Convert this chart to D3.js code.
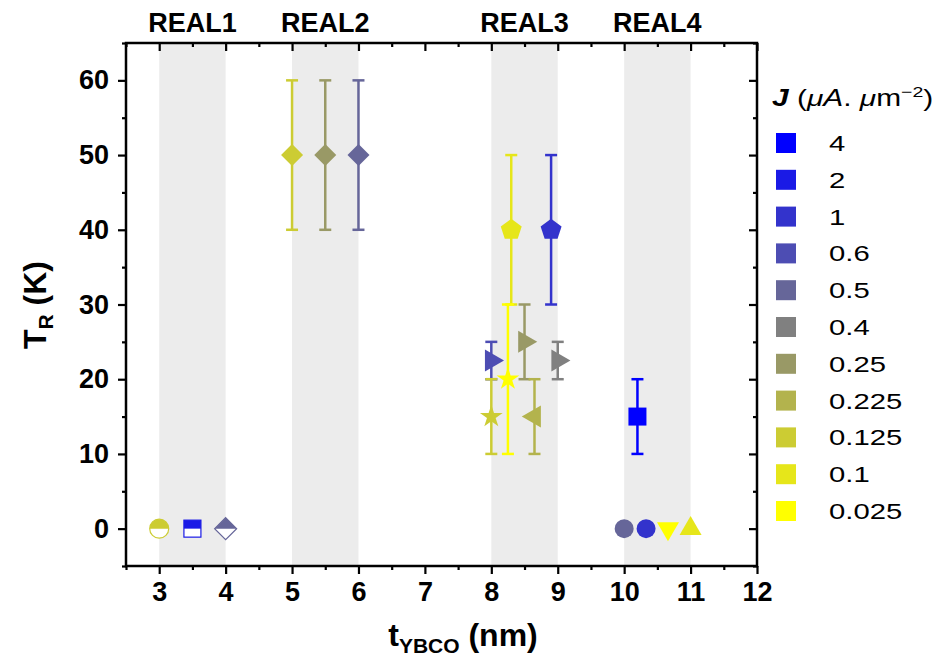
<!DOCTYPE html>
<html>
<head>
<meta charset="utf-8">
<script src="https://cdn.jsdelivr.net/npm/d3@7"></script>
<style>
  body { margin: 0; background: #fff; }
  svg text { font-family: "Liberation Sans", Arial, sans-serif; }
</style>
</head>
<body>
<div id="chart"></div>
<script>
// legend entries (current density J, uA.um^-2) and their colours
var jLabels = ["4", "2", "1", "0.6", "0.5", "0.4", "0.25", "0.225", "0.125", "0.1", "0.025"];
var jColors = ["#0000ff", "#1a1ae6", "#3333cc", "#4d4db3", "#666699", "#808080",
               "#999966", "#b3b34d", "#cccc33", "#e6e61a", "#ffff00"];

// shaded sample regions
var bandStart = [3, 5, 8, 10];
var bandEnd = [4, 6, 9, 11];
var bandLabels = ["REAL1", "REAL2", "REAL3", "REAL4"];

// data points
var tYBCO  = [3, 3.5, 4, 5, 5.5, 6, 8.3, 8.9, 8.0, 8.5, 9.0, 8.0, 8.25, 8.65, 10.2, 10.0, 10.33, 10.66, 11.0];
var tR     = [0, 0, 0, 50, 50, 50, 40, 40, 22.5, 25, 22.5, 15, 20, 15, 15, 0, 0, 0, 0];
var errLo  = [null, null, null, 40, 40, 40, 30, 30, 20, 20, 20, 10, 10, 10, 10, null, null, null, null];
var errHi  = [null, null, null, 60, 60, 60, 50, 50, 25, 30, 25, 20, 30, 20, 20, null, null, null, null];
var pointJ = ["0.125", "2", "0.5", "0.125", "0.25", "0.5", "0.1", "1", "0.6", "0.25", "0.4",
              "0.125", "0.025", "0.225", "4", "0.5", "1", "0.025", "0.1"];
var marker = ["halfCircle", "halfSquare", "halfDiamond", "diamond", "diamond", "diamond",
              "pentagon", "pentagon", "triRight", "triRight", "triRight",
              "star", "star", "triLeft", "square", "circle", "circle", "triDown", "triUp"];

var xTicks = [3, 4, 5, 6, 7, 8, 9, 10, 11, 12];
var yTicks = [0, 10, 20, 30, 40, 50, 60];

var W = 942, H = 668;
var mLeft = 126, mRight = 757, mTop = 43, mBottom = 566;

var x = d3.scaleLinear().domain([2.5, 12]).range([mLeft, mRight]);
var y = d3.scaleLinear().domain([-5, 65]).range([mBottom, mTop]);
var color = d3.scaleOrdinal().domain(jLabels).range(jColors);

var svg = d3.select("#chart").append("svg")
    .attr("width", W)
    .attr("height", H);

// bands
svg.append("g").selectAll("rect")
    .data(bandStart)
    .enter().append("rect")
    .attr("x", function(d) { return x(d); })
    .attr("y", mTop)
    .attr("width", function(d, i) { return x(bandEnd[i]) - x(d); })
    .attr("height", mBottom - mTop)
    .attr("fill", "#ececec");

svg.append("g").selectAll("text")
    .data(bandLabels)
    .enter().append("text")
    .attr("x", function(d, i) { return x((bandStart[i] + bandEnd[i]) / 2); })
    .attr("y", 32)
    .attr("text-anchor", "middle")
    .attr("font-size", "27px")
    .attr("font-weight", "bold")
    .text(function(d) { return d; });

// axes
var minorX = d3.range(2.5, 12.01, 0.5).filter(function(v) { return v % 1 !== 0; });
var minorY = d3.range(-5, 65.01, 5).filter(function(v) { return v % 10 !== 0; });

function styleAxis(g) {
  g.select(".domain").remove();
  g.selectAll("line").attr("stroke", "#000").attr("stroke-width", 2.2);
  g.selectAll("text").attr("font-size", "27px").attr("font-weight", "bold").attr("fill", "#000");
}

svg.append("g")
    .attr("transform", "translate(0," + mBottom + ")")
    .call(d3.axisBottom(x).tickValues(xTicks).tickSize(8).tickPadding(8).tickFormat(d3.format("d")))
    .call(styleAxis);
svg.append("g")
    .attr("transform", "translate(0," + mBottom + ")")
    .call(d3.axisBottom(x).tickValues(minorX).tickSize(4).tickFormat(""))
    .call(styleAxis);
svg.append("g")
    .attr("transform", "translate(0," + mTop + ")")
    .call(d3.axisBottom(x).tickValues(xTicks).tickSize(8).tickFormat(""))
    .call(styleAxis);
svg.append("g")
    .attr("transform", "translate(0," + mTop + ")")
    .call(d3.axisBottom(x).tickValues(minorX).tickSize(4).tickFormat(""))
    .call(styleAxis);

svg.append("g")
    .attr("transform", "translate(" + mLeft + ",0)")
    .call(d3.axisLeft(y).tickValues(yTicks).tickSize(8).tickPadding(9))
    .call(styleAxis);
svg.append("g")
    .attr("transform", "translate(" + mLeft + ",0)")
    .call(d3.axisLeft(y).tickValues(minorY).tickSize(4).tickFormat(""))
    .call(styleAxis);
svg.append("g")
    .attr("transform", "translate(" + mRight + ",0)")
    .call(d3.axisLeft(y).tickValues(yTicks).tickSize(8).tickFormat(""))
    .call(styleAxis);
svg.append("g")
    .attr("transform", "translate(" + mRight + ",0)")
    .call(d3.axisLeft(y).tickValues(minorY).tickSize(4).tickFormat(""))
    .call(styleAxis);

svg.append("rect")
    .attr("x", mLeft).attr("y", mTop)
    .attr("width", mRight - mLeft).attr("height", mBottom - mTop)
    .attr("fill", "none")
    .attr("stroke", "#000")
    .attr("stroke-width", 2.5);

// axis titles
var yt = svg.append("text")
    .attr("transform", "translate(46," + 305 + ") rotate(-90)")
    .attr("text-anchor", "middle")
    .attr("font-size", "32px")
    .attr("font-weight", "bold");
yt.append("tspan").text("T");
yt.append("tspan").attr("font-size", "21px").attr("dy", 7).text("R");
yt.append("tspan").attr("dy", -7).text(" (K)");

var xt = svg.append("text")
    .attr("x", 463)
    .attr("y", 646)
    .attr("text-anchor", "middle")
    .attr("font-size", "32px")
    .attr("font-weight", "bold");
xt.append("tspan").text("t");
xt.append("tspan").attr("font-size", "21px").attr("dy", 7).text("YBCO");
xt.append("tspan").attr("dy", -7).text(" (nm)");

// error bars
var pts = tYBCO.map(function(d, i) {
  return { x: d, y: tR[i], lo: errLo[i], hi: errHi[i], j: pointJ[i], m: marker[i] };
});
var bars = svg.append("g").selectAll("g")
    .data(pts.filter(function(d) { return d.lo !== null; }))
    .enter().append("g")
    .attr("stroke", function(d) { return color(d.j); })
    .attr("stroke-width", 2.5);
bars.append("line")
    .attr("x1", function(d) { return x(d.x); }).attr("x2", function(d) { return x(d.x); })
    .attr("y1", function(d) { return y(d.lo); }).attr("y2", function(d) { return y(d.hi); });
bars.append("line")
    .attr("x1", function(d) { return x(d.x) - 6; }).attr("x2", function(d) { return x(d.x) + 6; })
    .attr("y1", function(d) { return y(d.lo); }).attr("y2", function(d) { return y(d.lo); });
bars.append("line")
    .attr("x1", function(d) { return x(d.x) - 6; }).attr("x2", function(d) { return x(d.x) + 6; })
    .attr("y1", function(d) { return y(d.hi); }).attr("y2", function(d) { return y(d.hi); });

// marker shapes
function pentagon(r) {
  var p = d3.path();
  for (var k = 0; k < 5; k++) {
    var a = -Math.PI / 2 + k * 2 * Math.PI / 5;
    if (k === 0) p.moveTo(r * Math.cos(a), r * Math.sin(a));
    else p.lineTo(r * Math.cos(a), r * Math.sin(a));
  }
  p.closePath();
  return p.toString();
}
var tri = d3.symbol().type(d3.symbolTriangle).size(210)();

var marks = svg.append("g").selectAll("g")
    .data(pts)
    .enter().append("g")
    .attr("transform", function(d) { return "translate(" + x(d.x) + "," + y(d.y) + ")"; });

marks.each(function(d) {
  var g = d3.select(this), c = color(d.j);
  if (d.m === "square") {
    g.append("rect").attr("x", -9).attr("y", -9).attr("width", 18).attr("height", 18).attr("fill", c);
  } else if (d.m === "diamond") {
    g.append("path").attr("d", "M0,-11L11,0L0,11L-11,0Z").attr("fill", c);
  } else if (d.m === "circle") {
    g.append("circle").attr("r", 9.5).attr("fill", c);
  } else if (d.m === "pentagon") {
    g.append("path").attr("d", pentagon(11)).attr("fill", c);
  } else if (d.m === "star") {
    g.append("path").attr("d", d3.symbol().type(d3.symbolStar).size(160)()).attr("fill", c);
  } else if (d.m.indexOf("tri") === 0) {
    var rot = { triUp: 0, triRight: 90, triDown: 180, triLeft: -90 }[d.m];
    g.append("path").attr("d", tri).attr("transform", "rotate(" + rot + ")").attr("fill", c);
  } else if (d.m === "halfCircle") {
    g.append("circle").attr("r", 9.5).attr("fill", "#fff").attr("stroke", c).attr("stroke-width", 1.2);
    g.append("path").attr("d", "M-9.5,0A9.5,9.5 0 0 1 9.5,0Z").attr("fill", c);
  } else if (d.m === "halfSquare") {
    g.append("rect").attr("x", -8.5).attr("y", -8.5).attr("width", 17).attr("height", 17)
      .attr("fill", "#fff").attr("stroke", c).attr("stroke-width", 1.2);
    g.append("rect").attr("x", -8.5).attr("y", -8.5).attr("width", 17).attr("height", 8.5).attr("fill", c);
  } else if (d.m === "halfDiamond") {
    g.append("path").attr("d", "M0,-11L11,0L0,11L-11,0Z")
      .attr("fill", "#fff").attr("stroke", c).attr("stroke-width", 1.2);
    g.append("path").attr("d", "M0,-11L11,0L-11,0Z").attr("fill", c);
  }
});

// legend (text in the original is stretched horizontally)
var lt = svg.append("text")
    .attr("transform", "translate(772,106) scale(1.3,1)")
    .attr("font-family", "'Liberation Serif', 'DejaVu Serif', serif")
    .attr("font-size", "23px");
lt.append("tspan").attr("font-style", "italic").attr("font-weight", "bold").text("J");
lt.append("tspan").text(" (");
lt.append("tspan").attr("font-style", "italic").text("μA");
lt.append("tspan").text(". ");
lt.append("tspan").attr("font-style", "italic").text("μ");
lt.append("tspan").text("m");
lt.append("tspan").attr("font-size", "15px").attr("dy", -9).text("−2");
lt.append("tspan").attr("dy", 9).text(")");

var legend = svg.append("g").selectAll("g")
    .data(jLabels)
    .enter().append("g")
    .attr("transform", function(d, i) { return "translate(776," + (133 + i * 36.8) + ")"; });
legend.append("rect")
    .attr("width", 20)
    .attr("height", 20)
    .attr("fill", function(d) { return color(d); });
legend.append("text")
    .attr("transform", "translate(53,10) scale(1.33,1)")
    .attr("dy", "0.36em")
    .attr("font-size", "22px")
    .text(function(d) { return d; });
</script>
</body>
</html>
